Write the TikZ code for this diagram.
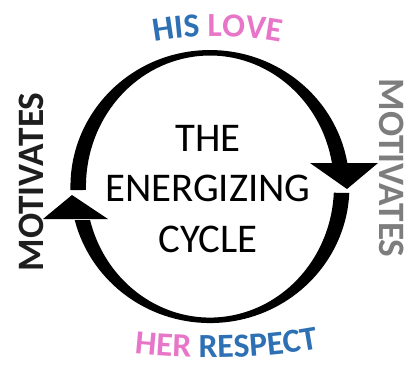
\documentclass[tikz,border=0pt]{standalone}
\usepackage{fontspec}
\setmainfont{Carlito}
\usepackage{xcolor}
\usepackage{tikz}
\usetikzlibrary{calc,decorations.text}

\definecolor{hisblue}{RGB}{46,112,180}
\definecolor{lovepink}{RGB}{232,118,200}
\definecolor{motivdark}{RGB}{30,30,30}
\definecolor{motivgrey}{RGB}{125,125,125}
\newcommand\wordartfont{\bfseries\fontsize{24}{24}\selectfont}

\begin{document}
\begin{tikzpicture}[
    scale=0.025,
    ring/.style={fill=black},
    head/.style={fill=black},
    centertext/.style={align=center, inner sep=0pt, font=\fontsize{29}{36}\selectfont},
    sidetext/.style={inner sep=0pt, font=\bfseries\fontsize{26.5}{30}\selectfont},
    arched/.style={decorate, decoration={text along path, text align=center, text={#1}}},
]
    \useasboundingbox (0,0) rectangle (408,366);
    \coordinate (c) at (210,179.5);

    % Upper half of the cycle
    \fill [ring] ($(c)+(181.5:139.5 and 136.5)$)
        arc [start angle=181.5, end angle=10, x radius=139.5, y radius=136.5]
        -- ($(c)+(10:124 and 131)$)
        arc [start angle=10, end angle=181.5, x radius=124, y radius=131] -- cycle;
    \fill [head] (310,203) -- (378,203) -- (347,177) -- cycle;

    % Lower half of the cycle
    \fill [ring] ($(c)+(-2.7:139.5 and 136.5)$)
        arc [start angle=-2.7, end angle=-165.8, x radius=139.5, y radius=136.5]
        -- ($(c)+(-165.2:124 and 131)$)
        arc [start angle=-165.2, end angle=-2.7, x radius=124, y radius=131] -- cycle;
    \fill [head] (43,147) -- (108,147) -- (72,171) -- cycle;

    % Texts
    \node [centertext] (cycletitle) at (208,177) {THE\\ENERGIZING\\CYCLE};
    \node [sidetext, text=motivdark, rotate=90] (motivleft) at (31,184) {MOTIVATES};
    \node [sidetext, text=motivgrey, rotate=-90] (motivright) at (392,198) {MOTIVATES};

    % Arched labels
    \path [arched={|\wordartfont\color{hisblue}|HIS |\wordartfont\color{lovepink}|LOVE}]
        (145,322) .. controls (185,332) and (250,332) .. (290,322);
    \path [arched={|\wordartfont\color{lovepink}|HER |\wordartfont\color{hisblue}|RESPECT}]
        (128,13) .. controls (175,7) and (255,5) .. (325,19);
\end{tikzpicture}
\end{document}
